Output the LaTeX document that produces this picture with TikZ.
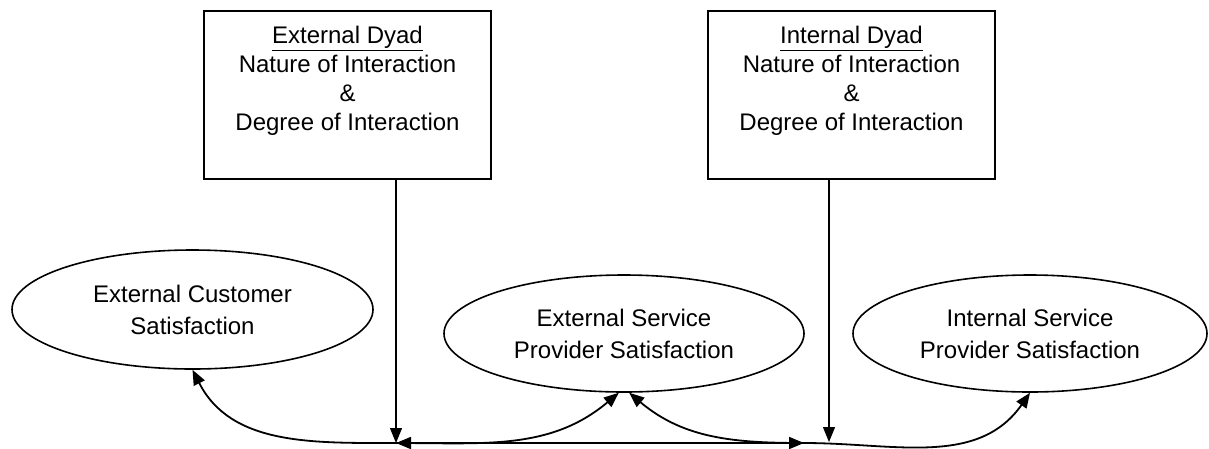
\documentclass[tikz,border=0pt]{standalone}
\usepackage{fontspec}
\setmainfont{Liberation Sans}
\usetikzlibrary{arrows.meta,shapes.geometric}

\tikzset{
  dyad/.style={draw, line width=1.8pt, minimum width=287pt, minimum height=168pt, inner sep=0pt},
  dyadtext/.style={align=center, inner sep=0pt, font=\fontsize{24}{29}\selectfont},
  sat/.style={draw, ellipse, line width=1.6pt, inner sep=0pt, align=center,
              font=\fontsize{24}{32}\selectfont},
  tip/.style={-{Triangle[length=15pt,width=12pt]}},
  link/.style={line width=1.8pt, tip},
  feed/.style={line width=1.2pt, tip}
}

\begin{document}
\begin{tikzpicture}[x=1pt,y=1pt]
\useasboundingbox (0,0) rectangle (1209,-448);

% dyad boxes
\node[dyad] (ebox) at (347.5,-95) {};
\node[dyadtext, anchor=north] (etext) at (347.5,-26)
  {\underline{External Dyad}\\Nature of Interaction\\\&\\Degree of Interaction};
\node[dyad] (ibox) at (851.5,-95) {};
\node[dyadtext, anchor=north] (itext) at (851.5,-26)
  {\underline{Internal Dyad}\\Nature of Interaction\\\&\\Degree of Interaction};

% satisfaction ellipses
\node[sat, minimum width=361pt, minimum height=119pt] (ecs) at (192.5,-309.5)
  {External Customer\\Satisfaction};
\node[sat, minimum width=360pt, minimum height=117pt] (esp) at (624,-333.5)
  {External Service\\Provider Satisfaction};
\node[sat, minimum width=354pt, minimum height=117pt] (isp) at (1030,-333.5)
  {Internal Service\\Provider Satisfaction};

% junctions on the bottom line
\coordinate (j1) at (396,-443);
\coordinate (j2) at (804,-443);
\coordinate (t2) at (829,-442);

% influence of the dyads
\draw[feed] (ebox.south -| j1) -- (j1);
\draw[feed] (ibox.south -| t2) -- (t2);

% links between the satisfaction constructs
\draw[link, {Triangle[length=15pt,width=12pt]}-{Triangle[length=15pt,width=12pt]}] (j1) -- (j2);
\draw[link] (j1) to[out=180,in=-63] (ecs.south);
\draw[link] (j1) to[out=0,in=-140] (esp.-95);
\draw[link] (j2) to[out=180,in=-40] (esp.-85);
\draw[link] (j2) to[out=0,in=-125] (isp.south);
\end{tikzpicture}
\end{document}
